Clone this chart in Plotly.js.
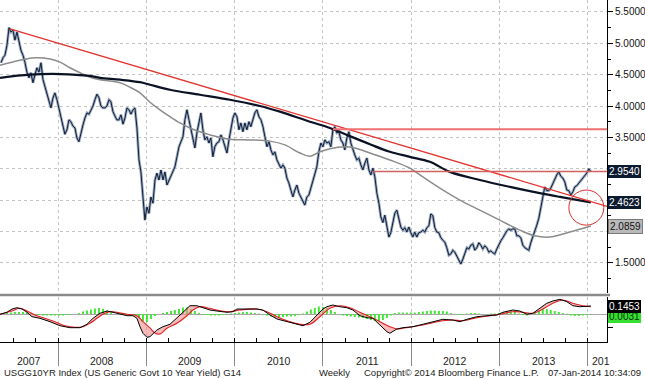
<!DOCTYPE html>
<html><head><meta charset="utf-8">
<script src="https://cdn.plot.ly/plotly-3.0.1.min.js"></script>
<style>html,body{margin:0;padding:0;background:#fff;}#chart{width:645px;height:380px;}</style>
</head><body><div id="chart"></div>
<script>
// ---- weekly yield (sampled), decimal years ----
const priceT = [
2007.354,2007.377,2007.399,2007.422,2007.445,2007.467,2007.490,2007.512,2007.535,2007.558,
2007.580,2007.603,2007.625,2007.648,2007.671,2007.693,2007.716,2007.739,2007.761,2007.784,
2007.807,2007.830,2007.852,2007.875,2007.898,2007.920,2007.943,2007.965,2007.988,2008.011,
2008.033,2008.056,2008.078,2008.101,2008.124,2008.146,2008.169,2008.192,2008.214,2008.237,
2008.260,2008.283,2008.305,2008.328,2008.351,2008.373,2008.396,2008.418,2008.441,2008.464,
2008.486,2008.509,2008.531,2008.554,2008.577,2008.599,2008.622,2008.645,2008.667,2008.690,
2008.713,2008.736,2008.758,2008.781,2008.804,2008.826,2008.849,2008.871,2008.894,2008.917,
2008.939,2008.962,2008.984,2009.007,2009.030,2009.052,2009.075,2009.098,2009.120,2009.143,
2009.166,2009.189,2009.211,2009.234,2009.257,2009.279,2009.302,2009.324,2009.347,2009.370,
2009.392,2009.415,2009.437,2009.460,2009.483,2009.505,2009.528,2009.550,2009.573,2009.596,
2009.618,2009.641,2009.663,2009.686,2009.709,2009.731,2009.754,2009.776,2009.799,2009.822,
2009.845,2009.868,2009.890,2009.913,2009.936,2009.958,2009.981,2010.003,2010.026,2010.049,
2010.071,2010.094,2010.116,2010.139,2010.162,2010.184,2010.207,2010.229,2010.252,2010.275,
2010.298,2010.321,2010.343,2010.366,2010.389,2010.411,2010.434,2010.456,2010.479,2010.502,
2010.524,2010.547,2010.569,2010.592,2010.615,2010.637,2010.660,2010.682,2010.705,2010.728,
2010.750,2010.773,2010.795,2010.818,2010.841,2010.863,2010.886,2010.908,2010.931,2010.954,
2010.977,2011.000,2011.022,2011.045,2011.068,2011.090,2011.113,2011.135,2011.158,2011.181,
2011.203,2011.226,2011.248,2011.271,2011.294,2011.316,2011.339,2011.361,2011.384,2011.407,
2011.430,2011.453,2011.475,2011.498,2011.521,2011.543,2011.566,2011.588,2011.611,2011.634,
2011.656,2011.679,2011.701,2011.724,2011.747,2011.769,2011.792,2011.814,2011.837,2011.860,
2011.882,2011.905,2011.927,2011.950,2011.973,2011.995,2012.018,2012.040,2012.063,2012.086,
2012.109,2012.132,2012.154,2012.177,2012.200,2012.222,2012.245,2012.267,2012.290,2012.313,
2012.335,2012.358,2012.380,2012.403,2012.426,2012.448,2012.471,2012.493,2012.516,2012.539,
2012.562,2012.585,2012.607,2012.630,2012.653,2012.675,2012.698,2012.720,2012.743,2012.766,
2012.788,2012.811,2012.833,2012.856,2012.879,2012.901,2012.924,2012.946,2012.969,2012.992,
2013.015,2013.038,2013.060,2013.083,2013.106,2013.128,2013.151,2013.173,2013.196,2013.219,
2013.241,2013.264,2013.286,2013.309,2013.332,2013.354,2013.377,2013.399,2013.422,2013.445,
2013.467,2013.490,2013.512,2013.535,2013.558,2013.580,2013.603,2013.625,2013.648,2013.671,
2013.694,2013.717,2013.739,2013.762,2013.785,2013.807,2013.830,2013.852,2013.875,2013.898,
2013.920,2013.943,2013.965,2013.988,2014.011,2014.033];
const priceV = [
4.69,4.77,4.81,4.97,5.25,5.18,5.21,5.05,5.18,5.05,
4.89,4.81,4.70,4.54,4.45,4.53,4.37,4.50,4.61,4.54,
4.69,4.42,4.30,4.18,4.07,3.97,4.13,4.21,4.10,3.97,
3.81,3.68,3.55,3.62,3.78,3.75,3.68,3.65,3.49,3.43,
3.59,3.70,3.81,3.89,3.87,3.94,4.00,4.10,4.19,4.13,
4.00,3.97,3.97,4.00,4.10,4.07,3.91,3.84,3.78,3.78,
3.86,3.71,3.81,3.97,3.94,3.87,3.94,3.97,3.65,3.14,
2.95,2.55,2.18,2.39,2.29,2.55,2.45,2.82,2.93,2.82,
2.98,2.82,2.95,2.74,2.82,2.90,2.98,3.03,3.19,3.35,
3.43,3.51,3.78,3.94,3.78,3.62,3.49,3.33,3.57,3.73,
3.89,3.62,3.46,3.51,3.41,3.49,3.19,3.35,3.41,3.43,
3.54,3.46,3.35,3.25,3.46,3.62,3.81,3.89,3.83,3.62,
3.73,3.59,3.73,3.62,3.75,3.67,3.78,3.89,3.94,3.83,
3.78,3.67,3.51,3.35,3.43,3.30,3.22,3.27,3.14,3.06,
3.01,3.06,3.01,2.85,2.77,2.66,2.55,2.66,2.74,2.61,
2.55,2.50,2.42,2.55,2.58,2.69,2.82,2.90,3.03,3.27,
3.41,3.35,3.46,3.41,3.43,3.35,3.62,3.67,3.57,3.59,
3.46,3.41,3.30,3.49,3.59,3.41,3.30,3.22,3.14,3.17,
3.06,2.98,3.09,3.17,2.98,2.90,3.01,2.87,2.61,2.45,
2.23,2.14,2.26,2.06,1.91,1.98,2.14,2.29,2.34,2.18,
2.07,2.02,2.06,1.99,2.07,1.98,1.91,1.99,1.91,1.98,
1.99,2.02,1.99,2.06,2.09,2.28,2.25,2.06,1.99,1.98,
1.90,1.86,1.83,1.74,1.62,1.64,1.70,1.67,1.61,1.56,
1.48,1.56,1.64,1.74,1.72,1.78,1.80,1.70,1.74,1.82,
1.78,1.72,1.77,1.74,1.67,1.69,1.66,1.64,1.72,1.80,
1.85,1.90,1.96,2.01,2.04,2.02,2.04,2.04,1.93,1.93,
1.90,1.78,1.74,1.72,1.70,1.82,1.91,1.99,2.10,2.21,
2.37,2.58,2.71,2.65,2.65,2.69,2.76,2.84,2.90,2.95,
2.88,2.85,2.79,2.66,2.65,2.58,2.63,2.71,2.73,2.77,
2.81,2.84,2.88,2.93,3.00,2.954];

// ---- moving averages ----
const ma200T = [2007.343,2007.683,2008.022,2008.362,2008.475,2008.702,2008.928,2009.041,2009.268,2009.607,2009.947,2010.286,2010.513,2010.853,2011.079,2011.305,2011.532,2011.758,2011.985,2012.211,2012.437,2012.777,2013.117,2013.456,2013.683,2014.034];
const ma200V = [4.45,4.50,4.51,4.48,4.45,4.42,4.38,4.34,4.26,4.18,4.10,4.00,3.91,3.75,3.65,3.52,3.39,3.27,3.19,3.11,2.95,2.82,2.71,2.61,2.55,2.4623];
const ma100T = [2007.343,2007.569,2007.739,2007.909,2008.022,2008.135,2008.249,2008.362,2008.475,2008.702,2008.815,2008.928,2009.041,2009.154,2009.268,2009.381,2009.494,2009.607,2009.720,2009.947,2010.173,2010.400,2010.569,2010.739,2010.853,2010.966,2011.079,2011.249,2011.362,2011.532,2011.758,2011.985,2012.098,2012.324,2012.551,2012.777,2013.003,2013.230,2013.400,2013.569,2013.796,2014.034];
const ma100V = [4.65,4.73,4.77,4.75,4.70,4.61,4.53,4.46,4.42,4.37,4.30,4.21,4.06,3.94,3.83,3.73,3.65,3.59,3.54,3.47,3.46,3.44,3.38,3.25,3.20,3.27,3.32,3.35,3.33,3.25,3.14,3.01,2.90,2.69,2.50,2.34,2.18,2.02,1.93,1.91,1.99,2.0859];

// ---- drawn lines ----
const trendT = [2007.456, 2014.217];
const trendV = [5.23, 2.40];
const resistT = [2011.113, 2014.217];
const resistV = [3.63, 3.63];
const lastT = [2011.566, 2014.217];
const lastV = [2.954, 2.954];
const circleT = [2013.785, 2014.181];
const circleV = [2.10, 2.66];

// ---- lower panel oscillator ----
const macdT = [2007.343,2007.422,2007.479,2007.535,2007.592,2007.649,2007.705,2007.796,2007.909,2008.022,
2008.135,2008.249,2008.328,2008.396,2008.475,2008.554,2008.622,2008.702,2008.781,2008.849,
2008.894,2008.928,2008.962,2009.007,2009.041,2009.120,2009.188,2009.268,2009.347,2009.415,
2009.494,2009.573,2009.641,2009.720,2009.800,2009.913,2009.981,2010.026,2010.139,2010.252,
2010.320,2010.400,2010.479,2010.592,2010.705,2010.773,2010.853,2010.932,2011.000,2011.045,
2011.113,2011.192,2011.271,2011.339,2011.419,2011.498,2011.566,2011.645,2011.724,2011.758,
2011.837,2011.905,2012.019,2012.132,2012.245,2012.358,2012.471,2012.551,2012.630,2012.743,
2012.856,2012.970,2013.037,2013.151,2013.230,2013.309,2013.377,2013.456,2013.535,2013.603,
2013.683,2013.762,2013.830,2013.909,2013.988,2014.034];
const macdV = [-0.005,0.031,0.09,0.114,0.09,0.031,-0.049,-0.078,-0.139,-0.212,
-0.248,-0.248,-0.186,-0.078,0.013,0.054,0.031,-0.005,-0.031,-0.031,
-0.078,-0.23,-0.349,-0.422,-0.411,-0.29,-0.23,-0.186,-0.078,0.031,
0.15,0.15,0.114,0.072,0.054,0.031,0.042,0.09,0.09,0.09,
0.072,-0.018,-0.09,-0.139,-0.186,-0.212,-0.15,-0.031,0.09,0.132,
0.163,0.132,0.114,0.072,-0.031,-0.067,-0.078,-0.199,-0.32,-0.349,
-0.272,-0.248,-0.23,-0.186,-0.139,-0.096,-0.109,-0.139,-0.096,-0.049,
-0.031,-0.018,0.031,0.072,0.054,-0.005,0.013,0.103,0.194,0.235,
0.266,0.223,0.15,0.132,0.145,0.1453];
const signalT = [2007.343,2007.479,2007.569,2007.649,2007.739,2007.852,2007.966,2008.079,2008.192,2008.283,
2008.362,2008.441,2008.509,2008.588,2008.668,2008.781,2008.894,2008.962,2009.041,2009.098,
2009.154,2009.234,2009.347,2009.460,2009.528,2009.607,2009.720,2009.834,2009.947,2010.060,
2010.252,2010.366,2010.479,2010.626,2010.739,2010.853,2010.966,2011.079,2011.192,2011.305,
2011.419,2011.532,2011.645,2011.758,2011.837,2011.905,2012.019,2012.132,2012.245,2012.358,
2012.471,2012.585,2012.743,2012.890,2013.003,2013.151,2013.264,2013.377,2013.490,2013.603,
2013.717,2013.830,2013.943,2014.034];
const signalV = [-0.005,0.054,0.103,0.054,-0.018,-0.078,-0.139,-0.212,-0.241,-0.23,
-0.168,-0.078,-0.005,0.042,0.031,-0.005,-0.031,-0.139,-0.253,-0.344,
-0.362,-0.259,-0.168,-0.031,0.072,0.132,0.103,0.06,0.042,0.072,
0.09,0.042,-0.049,-0.139,-0.186,-0.186,-0.049,0.103,0.15,0.114,
0.031,-0.049,-0.139,-0.23,-0.272,-0.259,-0.23,-0.199,-0.157,-0.121,
-0.109,-0.121,-0.067,-0.031,-0.005,0.042,0.031,0.013,0.09,0.194,
0.253,0.194,0.15,0.132];
const histV = [0.009,0.018,0.027,0.036,0.036,0.036,0.027,0.018,-0.009,-0.018,
-0.027,-0.027,-0.027,-0.027,-0.027,-0.027,-0.018,-0.009,0,0.018,
0.045,0.063,0.081,0.1,0.109,0.09,0.063,0.027,0,-0.009,
-0.018,-0.018,-0.018,-0.027,-0.072,-0.127,-0.145,-0.09,-0.036,0,
0.018,0.036,0.054,0.072,0.09,0.118,0.118,0.09,0.054,0.018,
-0.009,-0.018,-0.027,-0.027,-0.027,-0.018,-0.009,0.009,0.018,0.027,
0.036,0.036,0.027,0.018,0.009,-0.009,-0.027,-0.045,-0.054,-0.063,
-0.054,-0.045,-0.045,-0.036,-0.018,0.009,0.045,0.081,0.109,0.136,
0.127,0.109,0.072,0.036,0,-0.027,-0.036,-0.045,-0.054,-0.063,
-0.072,-0.09,-0.109,-0.127,-0.127,-0.109,-0.072,-0.027,0.018,0.027,
0.027,0.027,0.027,0.027,0.036,0.045,0.054,0.063,0.063,0.054,
0.054,0.045,0.018,0,-0.018,-0.009,0.009,0.018,0.018,0.009,
0,0,0.009,0.009,0.018,0.036,0.054,0.054,0.036,0.009,
-0.018,-0.027,0,0.036,0.063,0.09,0.09,0.072,0.054,0.036,
0.018,-0.009,-0.027,-0.036,-0.036,-0.027,-0.018,0.0031];
const histT = priceT.filter((_, i) => i % 2 === 1);

// ---- axis labels / text ----
const yTickVals = [1.5, 2.0, 2.5, 3.0, 3.5, 4.0, 4.5, 5.0, 5.5];
const yTickText = ['1.5000', '', '', '', '3.5000', '4.0000', '4.5000', '5.0000', '5.5000'];
const yearLabels = ['2007','2008','2009','2010','2011','2012','2013','201'];
const yearLabelPos = [2007.671,2008.5,2009.5,2010.5,2011.5,2012.5,2013.5,2014.147];
const yearBounds = [2008,2009,2010,2011,2012,2013,2014];
const footerLeft = 'USGG10YR Index (US Generic Govt 10 Year Yield) G14';
const footerFreq = 'Weekly';
const footerCopy = 'Copyright\u00a9 2014 Bloomberg Finance L.P.';
const footerDate = '07-Jan-2014 10:34:09';

const FONT = 'Liberation Sans, Arial, sans-serif';
const last = a => a[a.length - 1];

const traces = [
  {x: histT, y: histV, type: 'bar', xaxis: 'x', yaxis: 'y2', width: 0.022,
   marker: {color: '#3ee830', line: {width: 0}}, hoverinfo: 'skip'},
  {x: macdT, y: macdV, type: 'scatter', mode: 'lines', xaxis: 'x', yaxis: 'y2',
   line: {width: 0, color: 'rgba(0,0,0,0)'}, hoverinfo: 'skip'},
  {x: signalT, y: signalV, type: 'scatter', mode: 'lines', xaxis: 'x', yaxis: 'y2',
   fill: 'tonexty', fillcolor: 'rgba(240,140,140,0.6)', line: {width: 0, color: 'rgba(0,0,0,0)'}, hoverinfo: 'skip'},
  {x: signalT, y: signalV, type: 'scatter', mode: 'lines', xaxis: 'x', yaxis: 'y2',
   line: {width: 1.1, color: '#e02222', shape: 'spline'}},
  {x: macdT, y: macdV, type: 'scatter', mode: 'lines', xaxis: 'x', yaxis: 'y2',
   line: {width: 1, color: '#000000'}},

  {x: priceT, y: priceV, type: 'scatter', mode: 'lines', line: {width: 2.8, color: '#9baac0'}},
  {x: priceT, y: priceV, type: 'scatter', mode: 'lines', line: {width: 1, color: '#101f38'}},
  {x: ma100T, y: ma100V, type: 'scatter', mode: 'lines', line: {width: 1.5, color: '#8c8c8c', shape: 'spline'}},
  {x: ma200T, y: ma200V, type: 'scatter', mode: 'lines', line: {width: 2.2, color: '#0b1224', shape: 'spline'}},
  {x: trendT, y: trendV, type: 'scatter', mode: 'lines', line: {width: 1.3, color: '#e3342f'}},
  {x: resistT, y: resistV, type: 'scatter', mode: 'lines', line: {width: 2, color: '#ef7070'}},
  {x: lastT, y: lastV, type: 'scatter', mode: 'lines', line: {width: 1.5, color: '#d46060'}}
];

const annotations = [];
yearLabels.forEach((t, i) => annotations.push({
  xref: 'x', yref: 'paper', x: yearLabelPos[i], y: -0.0556, yanchor: 'middle',
  text: t, showarrow: false, font: {family: FONT, size: 10.5, color: '#222'}
}));
const footY = -0.0906;
annotations.push({xref: 'paper', yref: 'paper', x: 0.003, y: footY, xanchor: 'left', yanchor: 'middle', text: footerLeft, showarrow: false, font: {family: FONT, size: 9.5, color: '#222'}});
annotations.push({xref: 'paper', yref: 'paper', x: 0.522, y: footY, xanchor: 'left', yanchor: 'middle', text: footerFreq, showarrow: false, font: {family: FONT, size: 9.5, color: '#222'}});
annotations.push({xref: 'paper', yref: 'paper', x: 0.596, y: footY, xanchor: 'left', yanchor: 'middle', text: footerCopy, showarrow: false, font: {family: FONT, size: 9.5, color: '#222'}});
annotations.push({xref: 'paper', yref: 'paper', x: 1.0593, y: footY, xanchor: 'right', yanchor: 'middle', text: footerDate, showarrow: false, font: {family: FONT, size: 9.5, color: '#222'}});

function tag(yref, val, bg, fg, border, yshift) {
  return {xref: 'paper', yref: yref, x: 1.002, y: val, xanchor: 'left', yanchor: 'middle',
    text: val.toFixed(4), showarrow: false, bgcolor: bg, bordercolor: border, borderwidth: border ? 1 : 0,
    borderpad: 1, yshift: yshift || 0, font: {family: FONT, size: 10, color: fg}};
}
annotations.push(tag('y', last(priceV), '#0c1a30', '#ffffff', null));
annotations.push(tag('y', last(ma200V), '#0c1a30', '#ffffff', null));
annotations.push(tag('y', last(ma100V), '#b9b9b9', '#111111', '#7a7a7a'));
annotations.push(tag('y2', last(histV), '#35e030', '#0a300a', null, -3));
annotations.push(tag('y2', last(macdV), '#000000', '#ffffff', null, -1));

const layout = {
  width: 645, height: 380,
  margin: {l: 0, r: 38, t: 0, b: 38, pad: 0},
  paper_bgcolor: '#ffffff', plot_bgcolor: '#ffffff',
  showlegend: false,
  font: {family: FONT, size: 10, color: '#111'},
  xaxis: {
    type: 'linear', range: [2007.343, 2014.217], anchor: 'y2', automargin: false,
    tickmode: 'array', tickvals: yearBounds, showticklabels: false,
    ticks: 'outside', ticklen: 23, tickcolor: '#8a8a8a', tickwidth: 1,
    showgrid: true, gridcolor: '#c4c4c4', griddash: 'dot', gridwidth: 1,
    showline: true, linecolor: '#000', linewidth: 1, zeroline: false,
    minor: {tickmode: 'linear', tick0: 2008, dtick: 0.25, ticks: 'inside', ticklen: 4, tickcolor: '#000', showgrid: false}
  },
  yaxis: {
    domain: [0.1433, 1], range: [1.018, 5.691], side: 'right', anchor: 'x', automargin: false,
    tickmode: 'array', tickvals: yTickVals, ticktext: yTickText,
    ticks: 'outside', ticklen: 5, tickcolor: '#000',
    showline: true, linecolor: '#000', linewidth: 1,
    showgrid: true, gridcolor: '#c4c4c4', griddash: 'dot', gridwidth: 1, zeroline: false,
    tickfont: {family: FONT, size: 10, color: '#111'},
    minor: {tickmode: 'linear', tick0: 0, dtick: 0.25, ticks: 'outside', ticklen: 3, tickcolor: '#000', showgrid: false}
  },
  yaxis2: {
    domain: [0, 0.1316], range: [-0.507, 0.308], side: 'right', anchor: 'x', automargin: false,
    tickmode: 'array', tickvals: [-0.25, 0], showticklabels: false,
    ticks: 'outside', ticklen: 5, tickcolor: '#000',
    showline: true, linecolor: '#000', linewidth: 1,
    showgrid: false, zeroline: true, zerolinecolor: '#a8a8a8', zerolinewidth: 1
  },
  shapes: [
    {type: 'line', xref: 'paper', yref: 'paper', x0: 0, x1: 1.005, y0: 0.1374, y1: 0.1374,
     line: {color: '#8a8a8a', width: 2.5}},
    {type: 'circle', xref: 'x', yref: 'y', x0: circleT[0], x1: circleT[1], y0: circleV[0], y1: circleV[1],
     line: {color: '#d83030', width: 1}, layer: 'above'}
  ],
  annotations: annotations
};

Plotly.newPlot('chart', traces, layout, {staticPlot: true, displayModeBar: false});
</script>
</body></html>
